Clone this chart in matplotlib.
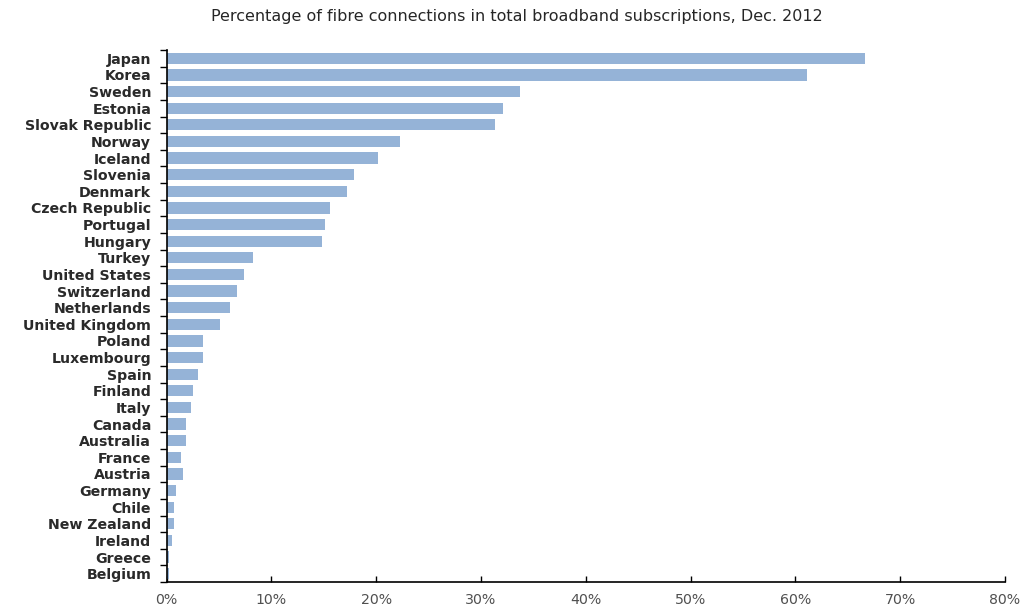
import matplotlib.pyplot as plt
import numpy as np

plt.rcParams["font.family"] = ["DejaVu Sans"]

countries = [
    "Japan", "Korea", "Sweden", "Estonia", "Slovak Republic", "Norway",
    "Iceland", "Slovenia", "Denmark", "Czech Republic", "Portugal", "Hungary",
    "Turkey", "United States", "Switzerland", "Netherlands", "United Kingdom",
    "Poland", "Luxembourg", "Spain", "Finland", "Italy", "Canada",
    "Australia", "France", "Austria", "Germany", "Chile", "New Zealand",
    "Ireland", "Greece", "Belgium",
]
fibre_share = [
    66.6, 61.1, 33.7, 32.1, 31.3, 22.3,
    20.2, 17.9, 17.2, 15.6, 15.1, 14.8,
    8.3, 7.4, 6.7, 6.1, 5.1,
    3.5, 3.5, 3.0, 2.5, 2.3, 1.9,
    1.9, 1.4, 1.6, 0.9, 0.7, 0.7,
    0.5, 0.2, 0.2,
]
x_ticks = [0, 10, 20, 30, 40, 50, 60, 70, 80]

fig = plt.figure(figsize=(10.27, 6.08), dpi=100)
ax = fig.add_axes([166.5 / 1027, 1 - 582 / 608, (1005 - 166.5) / 1027, 532 / 608])

y = np.arange(len(countries))
ax.barh(y, fibre_share, height=0.68, color="#95b3d7", zorder=2)

ax.set_ylim(len(countries) - 0.5, -0.5)
ax.set_xlim(0, 80)

ax.set_yticks(y)
ax.set_yticklabels(countries, fontsize=10.2, fontweight="bold", color="#2a2a2a")
ax.set_yticks(np.arange(-0.5, len(countries), 1), minor=True)
ax.tick_params(axis="y", which="major", length=0, pad=11)
ax.tick_params(axis="y", which="minor", length=5, direction="out", width=1)

ax.set_xticks(x_ticks)
ax.set_xticklabels([f"{v}%" for v in x_ticks], fontsize=10.2, color="#505050")
ax.tick_params(axis="x", length=4, direction="in", width=1, pad=8)

for side in ("top", "right"):
    ax.spines[side].set_visible(False)
for side in ("left", "bottom"):
    ax.spines[side].set_linewidth(1.2)

fig.text(517 / 1027, 1 - 17 / 608,
         "Percentage of fibre connections in total broadband subscriptions, Dec. 2012",
         ha="center", va="center", fontsize=11.5, color="#262626")

fig.savefig("out.png", dpi=100)
